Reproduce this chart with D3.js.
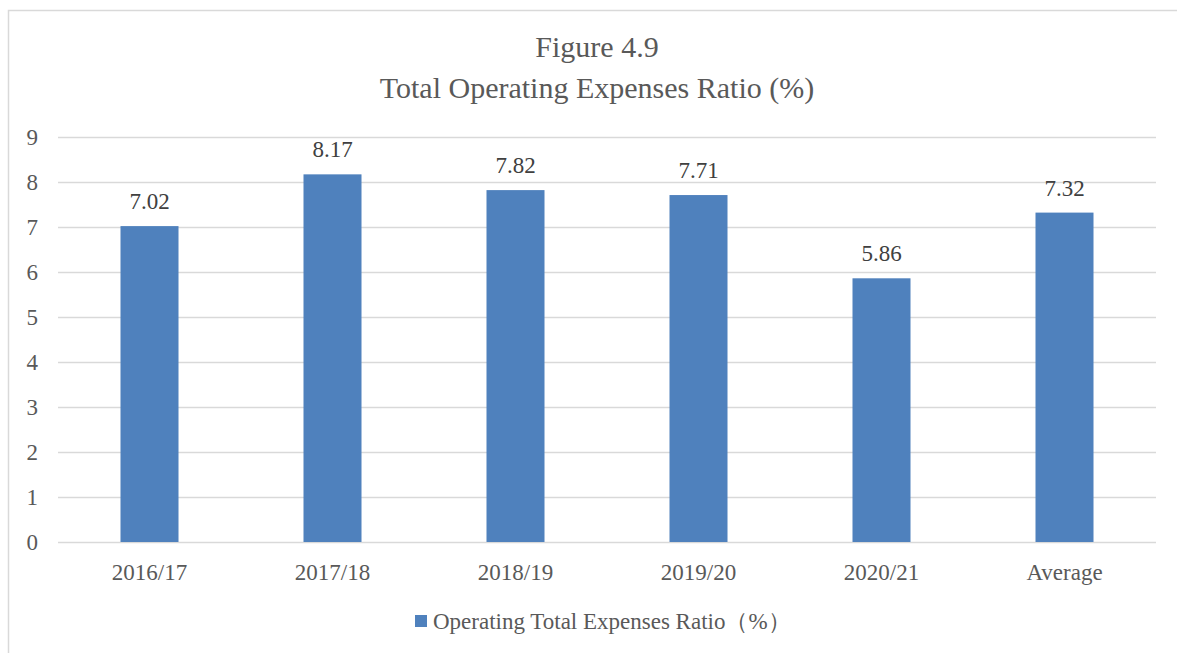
<!DOCTYPE html>
<html>
<head>
<meta charset="utf-8">
<script src="https://cdn.jsdelivr.net/npm/d3@7"></script>
<style>
  body { margin: 0; background: #fff; }
  svg { display: block; }
  svg text { font-family: "Liberation Serif", "Times New Roman", serif !important; }
</style>
</head>
<body>
<svg id="chart" width="1177" height="653"></svg>
<script>
//// DATA
const categories = ["2016/17", "2017/18", "2018/19", "2019/20", "2020/21", "Average"]
const ratios = [7.02, 8.17, 7.82, 7.71, 5.86, 7.32]
const yTicks = [0, 1, 2, 3, 4, 5, 6, 7, 8, 9]
const titleLines = ["Figure 4.9", "Total Operating Expenses Ratio (%)"]
const seriesName = "Operating Total Expenses Ratio（%）"

const barColor = "#4F81BD"
const gridColor = "#D9D9D9"
const textColor = "#595959"
const serif = "'Liberation Serif', 'Times New Roman', serif"

const svg = d3.select("#chart")

// outer chart frame (right and bottom edges fall off the picture)
svg.append("rect")
  .attr("x", 8.5).attr("y", 10.5)
  .attr("width", 1200).attr("height", 700)
  .attr("fill", "none")
  .attr("stroke", gridColor)
  .attr("stroke-width", 1.5)

// plot area
const plotLeft = 58, plotRight = 1156, plotTop = 137, plotBottom = 542

const x = d3.scaleBand()
  .domain(categories)
  .range([plotLeft, plotRight])
  .paddingInner(0.683)
  .paddingOuter(0.3415)

const y = d3.scaleLinear()
  .domain([0, 9])
  .range([plotBottom, plotTop])

// title
svg.append("g")
  .selectAll("text")
  .data(titleLines)
  .join("text")
  .attr("x", 597)
  .attr("y", (d, i) => 57 + i * 41)
  .attr("text-anchor", "middle")
  .style("font-family", serif)
  .attr("font-size", 30)
  .attr("fill", textColor)
  .text(d => d)

// gridlines
svg.append("g")
  .selectAll("line")
  .data(yTicks)
  .join("line")
  .attr("x1", plotLeft).attr("x2", plotRight)
  .attr("y1", d => y(d) + 0.5).attr("y2", d => y(d) + 0.5)
  .attr("stroke", gridColor)
  .attr("stroke-width", 1.3)

// y axis labels
const yAxis = d3.axisLeft(y).tickValues(yTicks).tickSize(0).tickPadding(20)
svg.append("g")
  .attr("transform", `translate(${plotLeft},0)`)
  .call(yAxis)
  .call(g => g.select(".domain").remove())
  .call(g => g.selectAll("text")
    .style("font-family", serif)
    .attr("font-size", 23)
    .attr("fill", textColor)
    .attr("dy", "0.34em"))

// x axis labels
const xAxis = d3.axisBottom(x).tickSize(0).tickPadding(22)
svg.append("g")
  .attr("transform", `translate(0,${plotBottom})`)
  .call(xAxis)
  .call(g => g.select(".domain").remove())
  .call(g => g.selectAll("text")
    .style("font-family", serif)
    .attr("font-size", 23)
    .attr("fill", textColor))

// bars
svg.append("g")
  .selectAll("rect")
  .data(ratios)
  .join("rect")
  .attr("x", (d, i) => x(categories[i]))
  .attr("y", d => y(d))
  .attr("width", x.bandwidth())
  .attr("height", d => y(0) - y(d))
  .attr("fill", barColor)

// data labels
svg.append("g")
  .selectAll("text")
  .data(ratios)
  .join("text")
  .attr("x", (d, i) => x(categories[i]) + x.bandwidth() / 2)
  .attr("y", d => y(d) - 17)
  .attr("text-anchor", "middle")
  .style("font-family", serif)
  .attr("font-size", 23)
  .attr("fill", "#404040")
  .text(d => d.toFixed(2))

// legend
const legend = svg.append("g").attr("transform", "translate(415,615)")
legend.append("rect")
  .attr("width", 12).attr("height", 12)
  .attr("fill", barColor)
legend.append("text")
  .attr("x", 18).attr("y", 14)
  .style("font-family", serif)
  .attr("font-size", 23)
  .attr("fill", textColor)
  .text(seriesName)
</script>
</body>
</html>
